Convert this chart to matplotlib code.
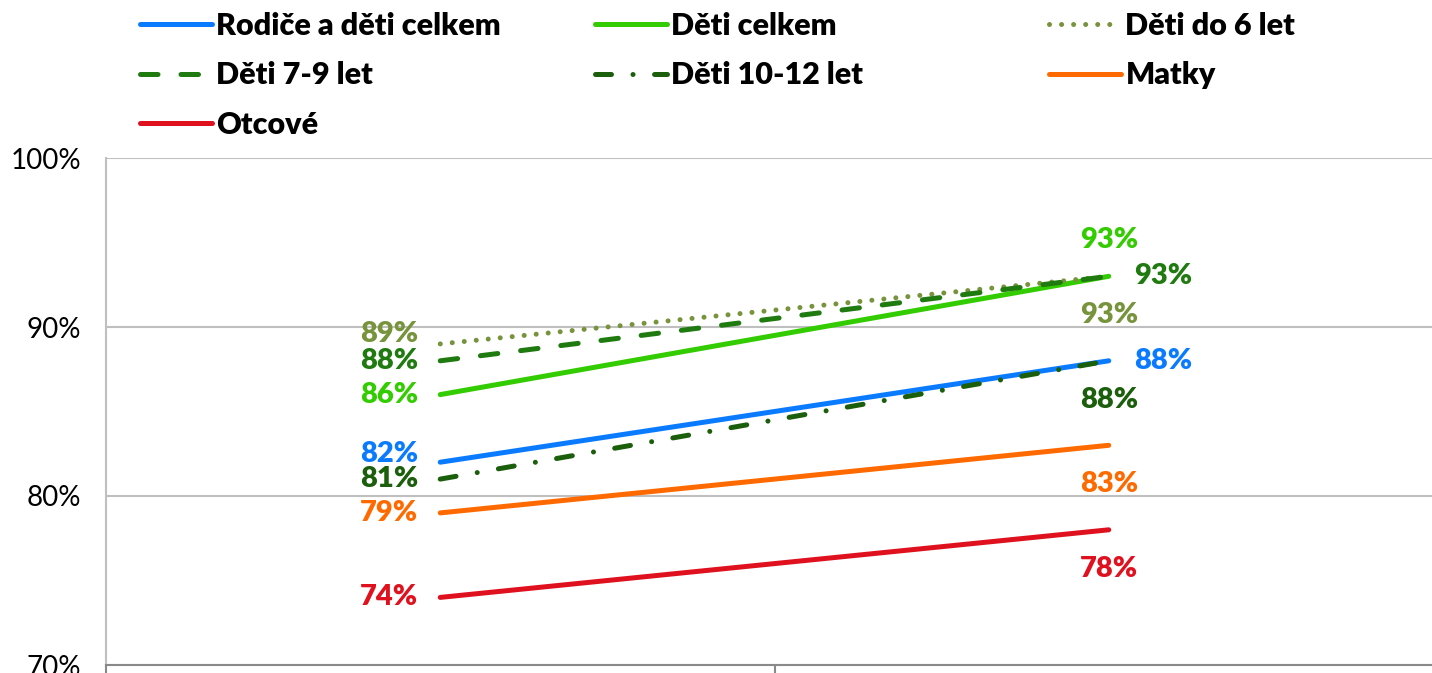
import matplotlib
matplotlib.use("Agg")
import matplotlib.pyplot as plt

plt.rcParams['font.family'] = ['Lato', 'DejaVu Sans']

# data (percent)
periods = [0, 1]
rodice_deti = [82, 88]
deti_celkem = [86, 93]
deti_do_6 = [89, 93]
deti_7_9 = [88, 93]
deti_10_12 = [81, 88]
matky = [79, 83]
otcove = [74, 78]

names = ["Rodiče a děti celkem", "Děti celkem", "Děti do 6 let",
         "Děti 7-9 let", "Děti 10-12 let", "Matky", "Otcové"]
y_ticks = [70, 80, 90, 100]

# style per series: colour, dash pattern, label offsets (left pt, right pt, right ha)
styles = {
    "Rodiče a děti celkem": dict(c="#0A7BFF", ls="-", left=(0, 6), right=(18, 0), ha="left"),
    "Děti celkem": dict(c="#33CC00", ls="-", left=(0, 0), right=(0, 26), ha="center"),
    "Děti do 6 let": dict(c="#77933C", ls=(0, (0.01, 2.4)), left=(0, 7), right=(0, -28), ha="center"),
    "Děti 7-9 let": dict(c="#1F7A0F", ls=(0, (3.5, 4.6)), left=(0, 0), right=(18, 0), ha="left"),
    "Děti 10-12 let": dict(c="#1B5E0B", ls=(0, (3.2, 4.3, 0.01, 4.3)), left=(0, 0), right=(0, -28), ha="center"),
    "Matky": dict(c="#FF6A00", ls="-", left=(0, 0), right=(0, -28), ha="center"),
    "Otcové": dict(c="#E0111F", ls="-", left=(0, 0), right=(0, -28), ha="center"),
}
data = [rodice_deti, deti_celkem, deti_do_6, deti_7_9, deti_10_12, matky, otcove]

fig = plt.figure(figsize=(14.32, 6.73), dpi=100)
ax = fig.add_axes([106 / 1432, 8 / 673, (1443 - 106) / 1432, (665 - 158) / 673])

handles = {}
for name, vals in zip(names, data):
    st = styles[name]
    ln, = ax.plot(periods, vals, color=st["c"], lw=3.6, linestyle=st["ls"],
                  solid_capstyle="round", dash_capstyle="round")
    handles[name] = ln
    # left label
    dx, dy = st["left"]
    ax.annotate(f"{vals[0]}%", (periods[0], vals[0]), xytext=(-16 + dx, dy),
                textcoords="offset points", ha="right", va="center",
                color=st["c"], fontsize=21, fontweight="heavy")
    dx, dy = st["right"]
    ax.annotate(f"{vals[1]}%", (periods[1], vals[1]), xytext=(dx, dy),
                textcoords="offset points", ha=st["ha"], va="center",
                color=st["c"], fontsize=21, fontweight="heavy")

ax.set_xlim(-0.5, 1.5)
ax.set_ylim(70, 100)
ax.set_yticks(y_ticks)
ax.set_yticklabels([f"{t}%" for t in y_ticks], fontsize=20)
ax.tick_params(axis="y", length=0, pad=18)
ax.set_xticks([-0.5, 0.5, 1.5])
ax.set_xticklabels(["", "", ""])
ax.tick_params(axis="x", length=8, width=1.5, color="#898989", direction="out")
ax.grid(axis="y", color="#BFBFBF", lw=1.5)
ax.set_axisbelow(True)
for s in ["top", "right"]:
    ax.spines[s].set_visible(False)
ax.spines["left"].set_color("#BFBFBF")
ax.spines["left"].set_linewidth(1.5)
ax.spines["bottom"].set_color("#898989")
ax.spines["bottom"].set_linewidth(1.5)

# legend in three columns, filled row by row
columns = [
    (140, ["Rodiče a děti celkem", "Děti 7-9 let", "Otcové"]),
    (595, ["Děti celkem", "Děti 10-12 let"]),
    (1049, ["Děti do 6 let", "Matky"]),
]
for x0, col in columns:
    fig.legend([handles[n] for n in col], col, loc="upper left",
               bbox_to_anchor=(x0 / 1432, 1 - 12 / 673), frameon=False,
               prop=dict(size=22, weight="heavy"), handlelength=2.35,
               handletextpad=0.15, labelspacing=0.7, borderpad=0,
               borderaxespad=0)

fig.savefig("out.png", dpi=100)
